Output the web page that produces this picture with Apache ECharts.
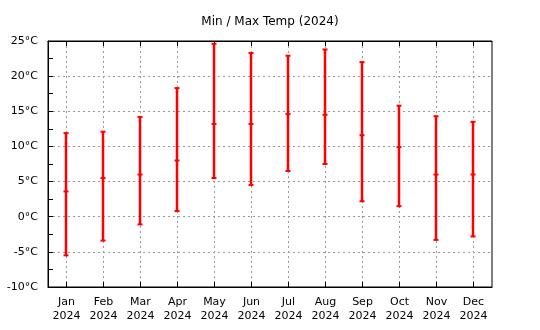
<!DOCTYPE html>
<html>
<head>
<meta charset="utf-8">
<script src="https://cdn.jsdelivr.net/npm/echarts@6/dist/echarts.min.js"></script>
<style>html,body{margin:0;padding:0;background:#fff}#c{width:540px;height:330px}</style>
</head>
<body>
<div id="c"></div>
<script>
const months = ['Jan','Feb','Mar','Apr','May','Jun','Jul','Aug','Sep','Oct','Nov','Dec'];
const year = '2024';
const minTemp = [-5.5, -3.4, -1.1, 0.8, 5.5, 4.5, 6.5, 7.5, 2.2, 1.5, -3.3, -2.8];
const avgTemp = [3.6, 5.5, 6.0, 8.0, 13.2, 13.2, 14.6, 14.5, 11.6, 9.9, 6.0, 6.0];
const maxTemp = [11.9, 12.1, 14.2, 18.3, 24.6, 23.3, 22.9, 23.8, 22.0, 15.8, 14.3, 13.5];
const yTicks = [-10, -5, 0, 5, 10, 15, 20, 25];

const FONT = 'DejaVu Sans';
const RED = '#ff0000';
const data = months.map((m, i) => [i, minTemp[i], avgTemp[i], maxTemp[i]]);

function renderItem(params, api) {
  const x = api.value(0);
  const pMin = api.coord([x, api.value(1)]);
  const pAvg = api.coord([x, api.value(2)]);
  const pMax = api.coord([x, api.value(3)]);
  const cx = Math.round(pMin[0]) - 1;
  const hw = 2.5;
  const st = { stroke: RED, lineWidth: 2.5 };
  const cap = { stroke: RED, lineWidth: 2 };
  return {
    type: 'group',
    children: [
      { type: 'line', shape: { x1: cx, y1: pMin[1], x2: cx, y2: pMax[1] }, style: st },
      { type: 'line', shape: { x1: cx - hw, y1: pMin[1], x2: cx + hw, y2: pMin[1] }, style: cap },
      { type: 'line', shape: { x1: cx - hw, y1: pAvg[1], x2: cx + hw, y2: pAvg[1] }, style: cap },
      { type: 'line', shape: { x1: cx - hw, y1: pMax[1], x2: cx + hw, y2: pMax[1] }, style: cap }
    ]
  };
}

const chart = echarts.init(document.getElementById('c'), null, { renderer: 'canvas' });
chart.setOption({
  animation: false,
  backgroundColor: '#fff',
  title: {
    text: 'Min / Max Temp (2024)',
    left: 'center',
    top: 11,
    textStyle: { fontFamily: FONT, fontSize: 12, fontWeight: 'normal', color: '#000' }
  },
  grid: {
    left: 48, right: 48, top: 41, bottom: 43,
    show: true, borderColor: '#000', borderWidth: 1, backgroundColor: 'transparent'
  },
  xAxis: [{
    type: 'category',
    data: months,
    boundaryGap: true,
    position: 'bottom',
    axisLine: { show: true, onZero: false, lineStyle: { color: '#000', width: 1 } },
    axisTick: { show: true, inside: true, length: 5, alignWithLabel: true, lineStyle: { color: '#000' } },
    axisLabel: {
      show: true, interval: 0, margin: 8,
      fontFamily: FONT, fontSize: 11, color: '#000', lineHeight: 14,
      formatter: v => v + '\n' + year
    },
    splitLine: { show: true, alignWithLabel: true, lineStyle: { color: '#999', type: [2, 3], width: 1 } }
  }, {
    type: 'category',
    data: months,
    boundaryGap: true,
    position: 'top',
    axisLine: { show: true, onZero: false, lineStyle: { color: '#000', width: 1 } },
    axisTick: { show: true, inside: true, length: 5, alignWithLabel: true, lineStyle: { color: '#000' } },
    axisLabel: { show: false },
    splitLine: { show: false }
  }],
  yAxis: {
    type: 'value',
    min: yTicks[0],
    max: yTicks[yTicks.length - 1],
    interval: 5,
    axisLine: { show: true, onZero: false, lineStyle: { color: '#000', width: 1 } },
    axisTick: { show: true, inside: true, length: 5, lineStyle: { color: '#000' } },
    minorTick: { show: true, splitNumber: 2, length: 5, lineStyle: { color: '#000' } },
    axisLabel: {
      margin: 10, fontFamily: FONT, fontSize: 11, color: '#000',
      formatter: v => v + '°C'
    },
    splitLine: { show: true, lineStyle: { color: '#999', type: [2, 3], width: 1 } }
  },
  series: [{
    type: 'custom',
    renderItem: renderItem,
    encode: { x: 0, y: [1, 2, 3] },
    data: data,
    clip: false,
    z: 10
  }]
});
</script>
</body>
</html>
